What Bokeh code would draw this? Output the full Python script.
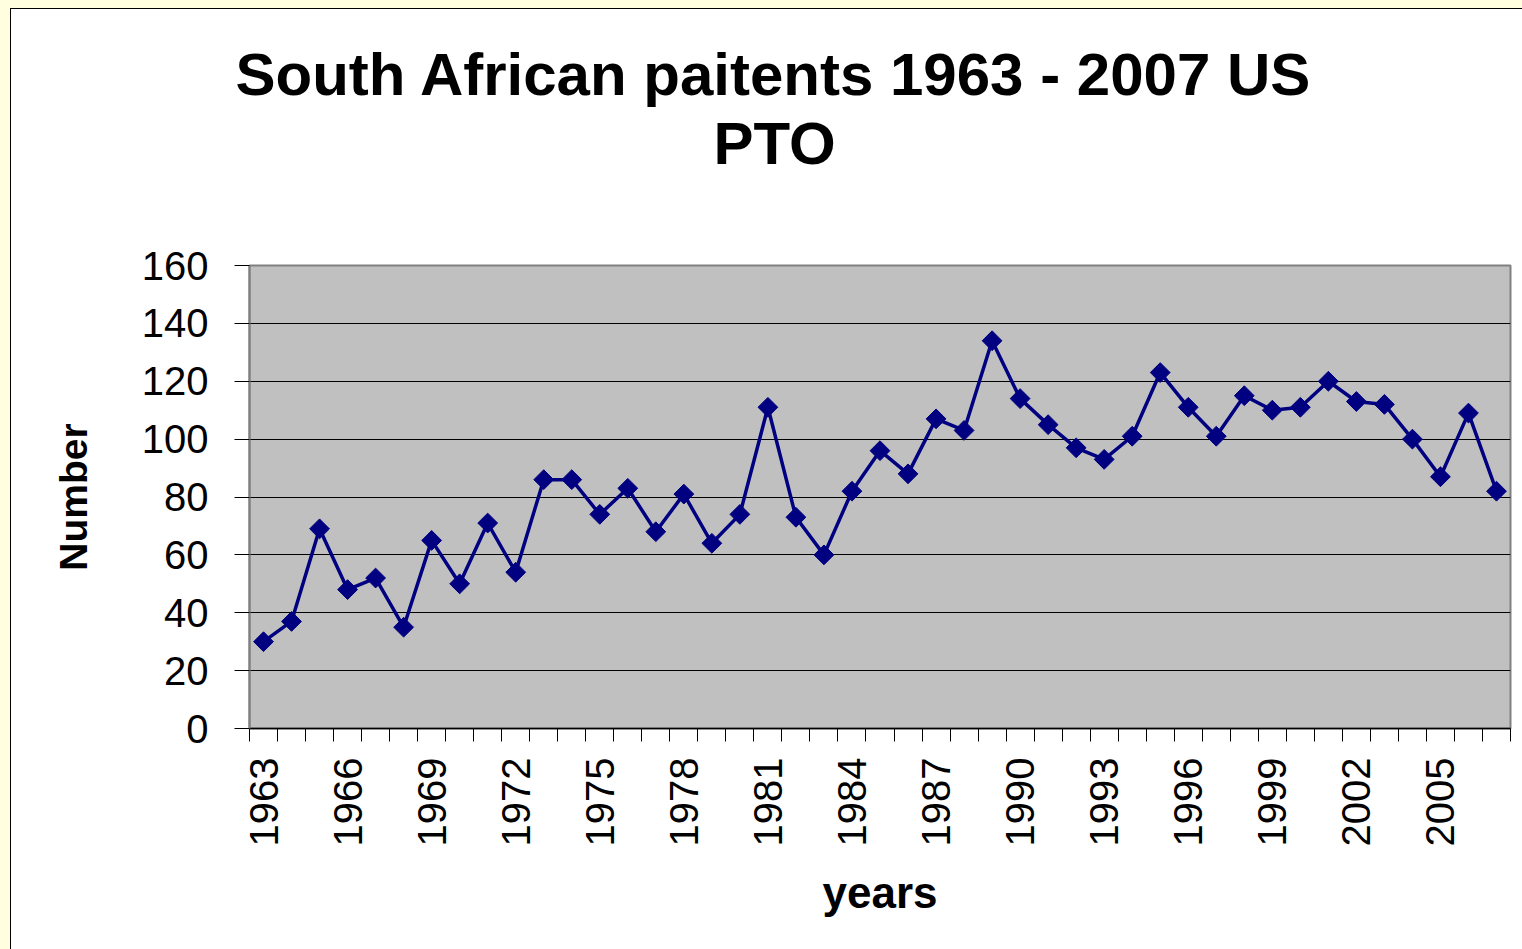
from math import pi
from bokeh.plotting import figure
from bokeh.models import Range1d, FixedTicker, Title
from bokeh.embed import file_html
from bokeh.resources import INLINE

# ---- data ----
years = [1963, 1964, 1965, 1966, 1967, 1968, 1969, 1970, 1971, 1972,
         1973, 1974, 1975, 1976, 1977, 1978, 1979, 1980, 1981, 1982,
         1983, 1984, 1985, 1986, 1987, 1988, 1989, 1990, 1991, 1992,
         1993, 1994, 1995, 1996, 1997, 1998, 1999, 2000, 2001, 2002,
         2003, 2004, 2005, 2006, 2007]
counts = [30, 37, 69, 48, 52, 35, 65, 50, 71, 54,
          86, 86, 74, 83, 68, 81, 64, 74, 111, 73,
          60, 82, 96, 88, 107, 103, 134, 114, 105, 97,
          93, 101, 123, 111, 101, 115, 110, 111, 120, 113,
          112, 100, 87, 109, 82]
label_years = [1963, 1966, 1969, 1972, 1975, 1978, 1981, 1984, 1987,
               1990, 1993, 1996, 1999, 2002, 2005]
y_ticks = [0, 20, 40, 60, 80, 100, 120, 140, 160]
title_line1 = "South African paitents 1963 - 2007 US"
title_line2 = "PTO"
x_title = "years"
y_title = "Number"

boundaries = [y - 0.5 for y in years] + [years[-1] + 0.5]
FONT = "Liberation Sans"

p = figure(width=1511, height=940, output_backend="svg", toolbar_location=None,
           x_range=Range1d(years[0] - 0.5, years[-1] + 0.5),
           y_range=Range1d(y_ticks[0], y_ticks[-1]),
           min_border_left=238, min_border_right=12,
           min_border_top=256, min_border_bottom=221,
           background_fill_color="#C0C0C0", border_fill_color="white")

p.outline_line_color = "#808080"
p.outline_line_width = 2

p.line(years, counts, line_color="#000080", line_width=3.5)
p.scatter(years, counts, marker="square", angle=pi / 4, size=14,
          fill_color="#000080", line_color="#000080")

# x axis
xa = p.xaxis[0]
xa.ticker = FixedTicker(ticks=label_years, minor_ticks=boundaries)
xa.major_tick_out = 0
xa.major_tick_in = 0
xa.minor_tick_out = 13
xa.minor_tick_in = 0
xa.minor_tick_line_color = "black"
xa.axis_line_color = "black"
xa.axis_line_width = 1.5
xa.major_label_orientation = pi / 2
xa.major_label_text_font = FONT
xa.major_label_text_font_size = "40px"
xa.major_label_text_color = "black"
xa.major_label_standoff = 16
xa.axis_label = x_title
xa.axis_label_text_font = FONT
xa.axis_label_text_font_style = "bold"
xa.axis_label_text_font_size = "44px"
xa.axis_label_text_color = "black"
xa.axis_label_standoff = 19

# y axis
ya = p.yaxis[0]
ya.ticker = FixedTicker(ticks=y_ticks)
ya.major_tick_out = 15
ya.major_tick_in = 0
ya.major_tick_line_color = "black"
ya.minor_tick_line_color = None
ya.axis_line_color = "#808080"
ya.axis_line_width = 2
ya.major_label_text_font = FONT
ya.major_label_text_font_size = "40px"
ya.major_label_text_color = "black"
ya.major_label_standoff = 26
ya.axis_label = y_title
ya.axis_label_text_font = FONT
ya.axis_label_text_font_style = "bold"
ya.axis_label_text_font_size = "39px"
ya.axis_label_text_color = "black"
ya.axis_label_standoff = 44

p.xgrid.visible = False
p.ygrid.grid_line_color = "black"
p.ygrid.grid_line_width = 1

# title: main title (outermost) + second line + spacer next to the frame
p.title.text = title_line1
p.title.align = "left"
p.title.offset = -14
p.title.text_font = FONT
p.title.text_font_style = "bold"
p.title.text_font_size = "60px"
p.title.text_color = "black"
p.title.standoff = 0
p.add_layout(Title(text=" ", text_font_size="10px", standoff=76), "above")
p.add_layout(Title(text=title_line2, align="left", offset=464,
                   text_font=FONT, text_font_style="bold",
                   text_font_size="60px", text_color="black", standoff=0), "above")

html = file_html(p, INLINE)
html = html.replace("</head>",
                    "<style>html{background:#FFFFE0;} body{margin:8px 0 0 10px;"
                    "border-left:1px solid #000;border-top:1px solid #000;"
                    "background:#fff;}</style></head>")
open("out.html", "w").write(html)
